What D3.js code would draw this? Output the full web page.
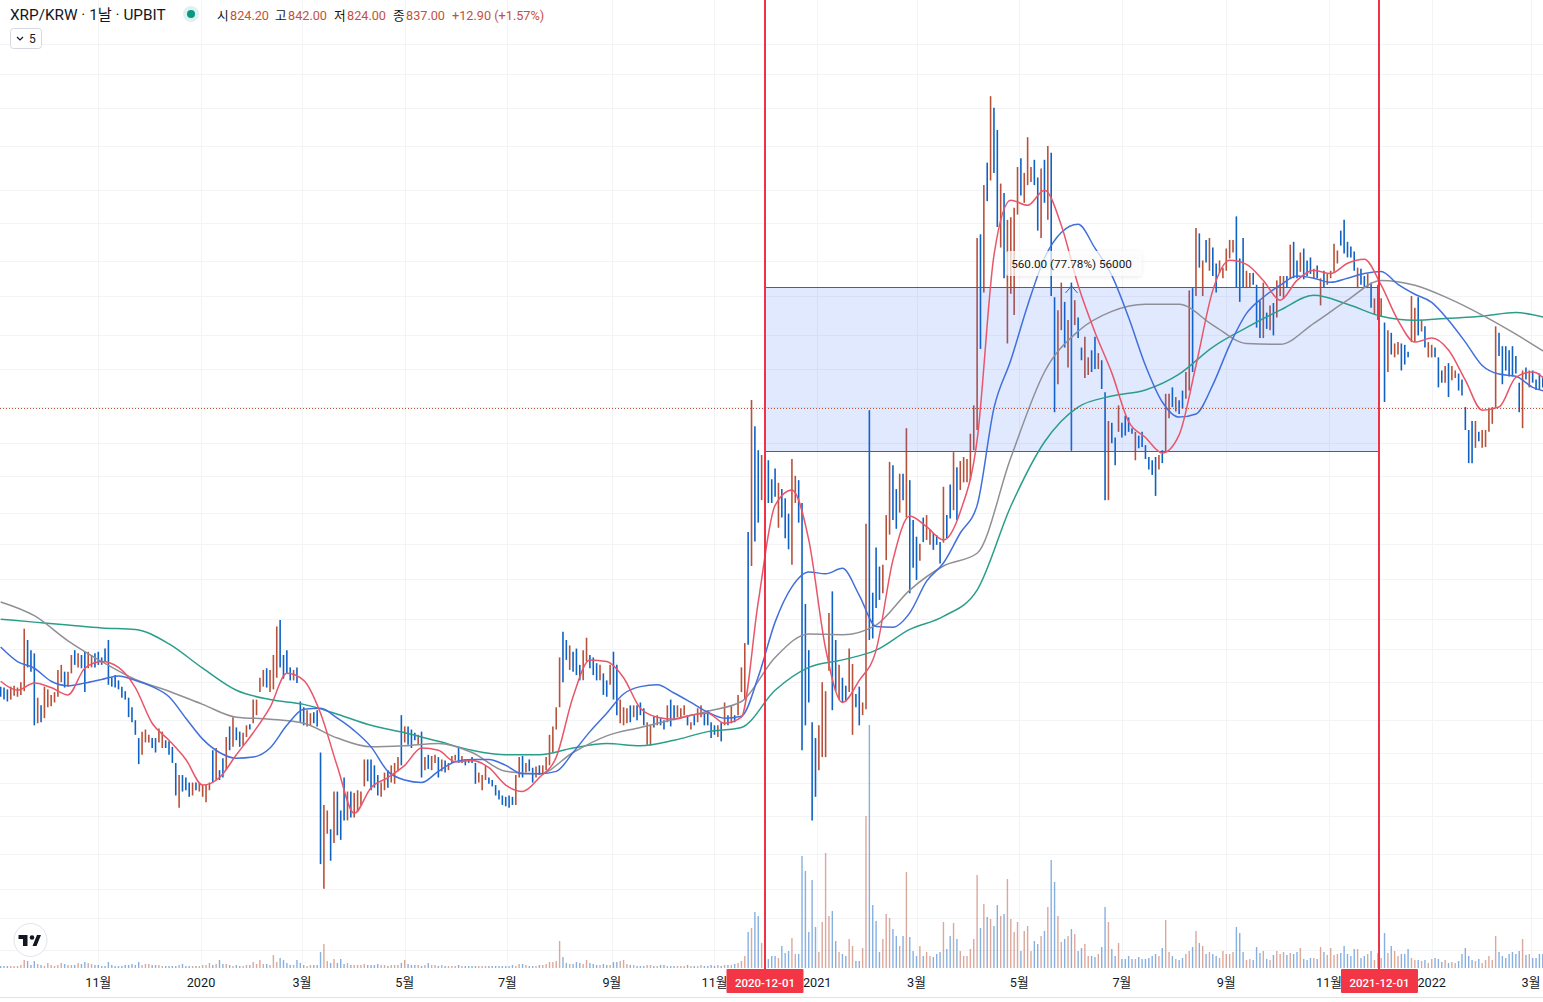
<!DOCTYPE html>
<html>
<head>
<meta charset="utf-8">
<title>XRP/KRW</title>
<script src="https://cdn.jsdelivr.net/npm/d3@7"></script>
<style>
  html, body { margin: 0; padding: 0; background: #fff; }
  svg { display: block; }
  text { font-family: Roboto, "Noto Sans CJK KR", sans-serif; }
</style>
</head>
<body>
<svg id="chart" width="1543" height="1002"></svg>
<script>
// one bar every second day from barStart, ten bars per row
const barStart = new Date(Date.UTC(2019, 8, 4));
const barDays = 2;

const highs = [
  315,314,312,315,316,314,320,386,371,358,
  354,303,295,315,312,306,309,334,340,332,
  332,352,358,354,352,356,356,352,354,356,
  349,360,371,325,328,322,315,310,303,293,
  280,263,269,271,266,263,263,272,269,261,
  260,255,241,231,231,229,225,225,225,225,
  223,223,225,252,254,235,245,264,274,283,
  273,269,268,275,276,301,301,325,334,336,
  334,352,389,398,352,358,337,334,337,299,
  293,290,287,288,290,250,208,204,191,218,
  218,204,229,218,218,217,219,218,244,244,
  244,239,231,225,233,235,239,241,246,285,
  274,274,271,268,266,269,246,248,247,248,
  246,244,243,241,247,248,255,247,244,244,
  246,241,233,231,239,229,227,223,219,215,
  214,215,214,231,246,247,241,244,237,238,
  239,239,246,266,274,293,349,382,371,364,
  356,360,340,358,374,352,349,342,340,330,
  322,340,356,340,301,293,292,295,295,295,
  298,292,278,275,284,285,282,280,295,301,
  295,295,292,295,285,278,285,292,295,288,
  290,278,275,275,278,298,285,295,285,306,
  337,367,542,861,785,722,710,743,697,652,
  677,644,630,610,578,700,660,650,600,421,
  358,278,263,275,320,310,408,440,371,340,
  325,316,360,341,307,315,298,558,831,438,
  513,480,483,575,693,685,630,665,665,780,
  650,565,533,520,570,575,546,540,536,523,
  635,575,640,717,680,695,705,700,765,845,
  1520,1540,1830,1980,2500,2400,2220,1840,1780,1620,
  1635,1690,1950,2010,1910,2165,1950,2000,1880,1940,
  2000,2100,2050,1235,1180,1300,1215,1140,1300,1222,
  1150,1035,1075,1000,1025,1075,1015,990,885,800,
  795,755,845,795,815,810,780,770,760,770,
  735,705,697,705,710,722,880,880,900,870,
  860,890,950,1265,1275,1575,1545,1405,1510,1520,
  1470,1390,1405,1370,1465,1510,1510,1640,1415,1520,
  1355,1345,1345,1290,1220,1300,1170,1200,1210,1310,
  1330,1330,1330,1485,1500,1405,1445,1465,1405,1420,
  1365,1380,1320,1355,1340,1355,1490,1455,1560,1620,
  1500,1475,1450,1370,1365,1330,1340,1300,1230,1290,
  1230,1130,1100,1090,1050,1055,1050,1045,1020,1240,
  1190,1235,1140,1115,1055,1045,1035,1000,955,970,
  980,970,955,945,925,840,775,800,800,770,
  775,775,838,840,1115,1090,1040,1040,1025,1040,
  1005,915,955,965,955,955,925,945,935
];

const lows = [
  304,301,299,301,305,304,306,310,337,332,
  275,277,278,282,293,294,298,304,320,314,
  315,330,340,337,336,309,336,337,337,340,
  340,344,317,315,314,312,303,301,283,278,
  266,240,248,259,259,254,250,259,254,254,
  248,241,215,206,218,219,214,215,219,218,
  214,210,219,225,227,227,229,235,252,255,
  261,255,256,264,271,277,285,309,315,314,
  309,312,325,337,324,330,322,322,319,278,
  275,274,275,277,274,169,155,188,171,182,
  187,184,197,197,199,199,203,208,222,226,
  219,221,215,214,219,221,225,224,234,239,
  259,257,254,261,257,229,235,236,235,241,
  229,234,233,235,241,243,241,241,239,241,
  241,224,225,219,227,224,222,215,212,208,
  207,206,208,208,229,229,233,234,225,229,
  231,231,235,239,250,271,293,320,346,334,
  332,328,322,322,344,336,328,322,322,306,
  304,317,301,285,277,275,277,278,283,280,
  285,275,257,256,273,275,275,271,278,274,
  280,283,282,285,275,271,275,278,283,275,
  275,263,266,264,260,275,275,277,278,285,
  309,301,365,481,524,560,606,650,600,600,
  613,550,570,530,510,483,600,560,252,275,
  298,197,214,235,246,246,333,290,310,301,
  298,299,309,266,293,275,285,291,371,373,
  415,427,437,491,537,565,548,580,606,570,
  437,478,458,490,523,527,518,509,518,485,
  522,530,568,585,565,628,645,645,650,722,
  775,1030,1255,1730,1860,1910,1580,1470,1320,1050,
  1250,1160,1650,1765,1720,1830,1850,1830,1560,1520,
  1720,1620,1240,825,910,1100,1035,965,722,1120,
  1070,990,930,940,950,960,960,895,606,606,
  740,685,770,755,760,770,765,697,727,730,
  700,675,662,615,675,690,718,808,840,827,
  820,835,865,890,950,1240,1370,1240,1395,1355,
  1330,1255,1345,1320,1355,1415,1445,1280,1215,1280,
  1275,1280,1290,1110,1070,1070,1105,1100,1080,1150,
  1240,1230,1280,1320,1320,1320,1350,1315,1330,1340,
  1320,1320,1200,1280,1290,1320,1350,1390,1480,1440,
  1420,1420,1355,1275,1290,1280,1275,1190,1160,1140,
  1155,855,950,1010,1000,1010,955,975,1000,1055,
  1055,1080,1095,1035,1000,1000,1000,900,915,915,
  870,923,930,890,875,775,690,690,728,745,
  728,730,770,792,838,1005,910,955,935,935,
  945,825,780,925,900,915,892,892,900
];

// r = price rose, b = price fell
const barDirs = (
  "bbbrrrrrbb" + "brbrrrrrrb" + "rrbrbbrrbb" + "bbbbbbbbbb" + "bbrrrbbrrb" +
  "bbbrbbbrbr" + "rrrbrbbrbr" + "bbrrbrrrrb" + "rrrbbbbrbb" + "brrbbbrrbr" +
  "bbbrbrrrrb" + "bbbrrbrrrb" + "rbbbrbrbrr" + "brbrrrbrbb" + "bbrrrbbbbb" +
  "bbbrrbrbbr" + "brrrrrrbbr" + "bbbrrbbbrb" + "brbbrrrbrb" + "bbrrbrbbrb" +
  "brrrbrbrrb" + "bbbrbrbrbr" + "rrbrbbrbbb" + "brbbbrrbbb" + "bbbrrrrbbr" +
  "bbrrbbrrbb" + "bbrrrbbrbr" + "bbbrbrrbbb" + "rbbrbrrrrr" + "rbrbrbbrbr" +
  "rrrbrrrbbr" + "brbbrrbrbr" + "bbrrbbrbbr" + "bbrbbbbrbb" + "bbbbrbrrbr" +
  "bbrrbrbrbr" + "bbrrrrrbbb" + "rrbbbrbrbr" + "rrbrbbrbbb" + "rbrbrrrrbb" +
  "bbbrbbrbrr" + "rbrbrrbbbr" + "rbrbrrbbbr" + "brrbbbbbrb" + "rrrrrbbbbb" +
  "bbrbrbbbb"
).split("");

const volumes = [
  10,10,10,10,10,10,15,40,35,15,
  35,20,15,10,25,15,10,15,25,20,
  15,15,15,25,20,30,25,20,15,15,
  10,10,30,15,10,10,10,15,15,20,
  15,30,15,20,20,15,15,15,10,10,
  10,10,10,15,20,10,10,10,10,10,
  15,15,25,15,20,40,20,20,15,10,
  15,10,10,15,15,30,20,40,20,20,
  15,65,30,50,40,25,15,15,40,25,
  15,10,15,15,15,80,120,35,25,45,
  25,45,20,25,15,15,15,15,20,15,
  15,15,20,15,15,10,15,15,15,25,
  40,20,15,15,15,10,15,25,15,15,
  10,15,10,10,10,10,15,10,10,10,
  10,10,10,10,10,10,10,10,10,10,
  10,10,15,10,20,20,15,10,10,10,
  15,15,20,30,30,35,135,55,25,20,
  20,30,25,20,40,25,20,15,15,20,
  15,15,30,30,35,40,20,15,15,10,
  10,10,15,15,10,10,15,15,10,10,
  10,10,10,10,15,10,10,10,15,10,
  10,15,10,15,10,15,15,15,20,25,
  35,60,180,200,280,260,125,95,45,60,
  60,50,110,75,85,150,70,70,560,485,
  180,440,205,80,230,575,260,285,135,80,
  70,60,145,110,35,35,100,760,1215,315,
  235,80,145,270,250,195,160,110,160,480,
  155,85,60,110,60,80,60,55,70,80,
  230,95,160,225,145,85,60,60,95,145,
  465,200,320,255,245,210,315,260,270,445,
  245,180,230,85,185,210,85,135,120,160,
  185,305,540,430,260,130,145,160,195,170,
  85,100,120,60,60,55,70,105,305,230,
  95,60,125,45,45,60,45,45,55,45,
  45,50,60,70,60,100,240,80,60,45,
  40,50,70,85,105,185,125,110,70,80,
  70,60,50,85,70,70,80,205,175,80,
  40,45,40,105,75,85,45,40,65,85,
  70,80,65,75,70,80,100,45,40,50,
  50,45,105,80,65,100,65,70,75,110,
  70,60,95,95,50,60,70,85,40,75,
  50,175,75,110,85,60,70,70,95,50,
  40,40,35,40,25,45,50,45,30,40,
  25,30,25,35,70,100,60,40,35,45,
  25,40,60,40,160,80,60,50,70,80,
  70,85,145,65,70,50,50,70,70
];

// moving averages, read every 10 days
const maRed = [
  321,311,319,314,306,336,344,337,314,277,261,244,223,229,248,268,293,330,322,287,
  238,202,221,229,239,254,252,242,243,237,223,218,229,246,304,346,344,325,292,283,
  281,285,287,277,283,424,595,628,527,360,298,322,358,491,573,552,527,582,748,1430,
  1736,1705,1798,1590,1288,1092,947,798,755,715,762,972,1265,1406,1386,1310,1222,1310,1357,1342,
  1391,1411,1288,1139,1055,1070,1026,923,831,840,932,950,908
];
const maBlue = [
  362,344,336,321,316,319,323,327,322,315,304,282,262,250,245,246,254,275,291,292,
  282,270,255,234,227,225,234,242,244,244,239,232,232,234,250,269,287,307,315,317,
  308,298,288,282,284,326,395,447,471,468,477,434,389,388,408,456,486,540,595,837,
  990,1200,1416,1550,1595,1467,1333,1150,972,855,811,820,908,1044,1167,1235,1288,1330,1320,1301,
  1320,1342,1352,1292,1248,1213,1139,1055,972,943,936,900,885
];
// slower averages, read every 20 days
const maGray = [
  424,404,370,344,323,310,296,283,281,277,263,255,256,258,250,234,232,250,265,273,
  281,289,299,349,379,378,391,442,481,503,703,950,1096,1175,1205,1205,1120,1050,1047,1127,
  1222,1310,1288,1230,1160,1085,1008
];
const maGreen = [
  399,395,391,387,385,366,336,311,301,296,286,275,268,260,252,248,248,254,258,256,
  261,269,273,311,337,346,358,385,403,442,593,743,840,873,892,943,1037,1110,1180,1243,
  1205,1155,1139,1147,1155,1170,1145
];

const gridPrices = [3000,2700,2400,2100,1800,1600,1400,1240,1080,960,840,740,660,580,520,460,400,360,320,280,250,225,200,175,155,140,125];
const tickDates = ["2019-11-01","2020-01-01","2020-03-01","2020-05-01","2020-07-01","2020-09-01","2020-11-01","2021-01-01","2021-03-01","2021-05-01","2021-07-01","2021-09-01","2021-11-01","2022-01-01","2022-03-01"];
const tickLabels = ["11월","2020","3월","5월","7월","9월","11월","2021","3월","5월","7월","9월","11월","2022","3월"];

const rangeStart = "2020-12-01", rangeEnd = "2021-12-01", arrowDate = "2021-06-01";
const rangeLow = 720, rangeHigh = 1280, lastClose = 837;

const ohlcHeader = [["시","824.20"],["고","842.00"],["저","824.00"],["종","837.00"]];
const ohlcX = [217,275,334,393];

const red = "#b8513a", blue = "#0f62c4", rangeBlue = "#2b60dc", markerRed = "#ee3348";

var svg = d3.select("#chart");
var parseDay = d3.utcParse("%Y-%m-%d");

var x = d3.scaleUtc().domain([parseDay("2020-01-01"), parseDay("2022-03-01")]).range([201, 1531]);
var y = d3.scaleLog().domain([rangeLow, rangeHigh]).range([451, 287]);
var vol = d3.scaleLinear().domain([0, 1215]).range([968, 725]);

var barX = function (i) { return x(d3.utcDay.offset(barStart, i * barDays)); };

// grid
svg.append("g").selectAll("line")
  .data(gridPrices)
  .enter().append("line")
  .attr("x1", 0).attr("x2", 1543)
  .attr("y1", function (d) { return Math.round(y(d)) + 0.5; })
  .attr("y2", function (d) { return Math.round(y(d)) + 0.5; })
  .attr("stroke", "#f3f4f6");

svg.append("g").selectAll("line")
  .data(tickDates)
  .enter().append("line")
  .attr("x1", function (d) { return Math.round(x(parseDay(d))) + 0.5; })
  .attr("x2", function (d) { return Math.round(x(parseDay(d))) + 0.5; })
  .attr("y1", 0).attr("y2", 968)
  .attr("stroke", "#f3f4f6");

// volume
svg.append("g").selectAll("line")
  .data(volumes)
  .enter().append("line")
  .attr("x1", function (d, i) { return barX(i); })
  .attr("x2", function (d, i) { return barX(i); })
  .attr("y1", 968)
  .attr("y2", function (d) { return vol(d); })
  .attr("stroke", function (d, i) { return barDirs[i] == "r" ? red : blue; })
  .attr("stroke-opacity", 0.5)
  .attr("stroke-width", 1.4);

// price bars
svg.append("g").selectAll("line")
  .data(highs)
  .enter().append("line")
  .attr("x1", function (d, i) { return barX(i); })
  .attr("x2", function (d, i) { return barX(i); })
  .attr("y1", function (d) { return y(d); })
  .attr("y2", function (d, i) { return y(lows[i]); })
  .attr("stroke", function (d, i) { return barDirs[i] == "r" ? red : blue; })
  .attr("stroke-width", 1.6);

// measured range
svg.append("rect")
  .attr("x", x(parseDay(rangeStart)))
  .attr("y", y(rangeHigh))
  .attr("width", x(parseDay(rangeEnd)) - x(parseDay(rangeStart)))
  .attr("height", y(rangeLow) - y(rangeHigh))
  .attr("fill", "#2962ff")
  .attr("fill-opacity", 0.14);

[rangeHigh, rangeLow].forEach(function (p) {
  svg.append("line")
    .attr("x1", x(parseDay(rangeStart))).attr("x2", x(parseDay(rangeEnd)))
    .attr("y1", Math.round(y(p)) + 0.5).attr("y2", Math.round(y(p)) + 0.5)
    .attr("stroke", rangeBlue);
});

var ax = Math.round(x(parseDay(arrowDate))) + 0.5;
svg.append("path")
  .attr("d", "M" + ax + "," + y(rangeLow) + "V" + y(rangeHigh) + "m-6,6l6,-7l6,7")
  .attr("fill", "none")
  .attr("stroke", rangeBlue);

// moving averages
var maLine = function (step) {
  return d3.line()
    .x(function (d, i) { return x(d3.utcDay.offset(barStart, i * step)); })
    .y(function (d) { return y(d); })
    .curve(d3.curveMonotoneX);
};

[[maGreen, 20, "#2b9e8a"], [maGray, 20, "#8f8f96"], [maBlue, 10, "#416fdc"], [maRed, 10, "#e9566a"]].forEach(function (m) {
  svg.append("path")
    .attr("d", maLine(m[1])(m[0]))
    .attr("fill", "none")
    .attr("stroke", m[2])
    .attr("stroke-width", 1.5);
});

// last price line
svg.append("line")
  .attr("x1", 0).attr("x2", 1543)
  .attr("y1", Math.round(y(lastClose)) + 0.5).attr("y2", Math.round(y(lastClose)) + 0.5)
  .attr("stroke", "#b8513a")
  .attr("stroke-dasharray", "1,2");

// range label
var defs = svg.append("defs");
var blur = defs.append("filter").attr("id", "soft").attr("x", "-10%").attr("y", "-30%").attr("width", "120%").attr("height", "170%");
blur.append("feDropShadow").attr("dx", 0).attr("dy", 1).attr("stdDeviation", 2).attr("flood-color", "#000").attr("flood-opacity", 0.12);

svg.append("rect")
  .attr("x", ax - 66).attr("y", 251)
  .attr("width", 136).attr("height", 25).attr("rx", 4)
  .attr("fill", "#fff").attr("fill-opacity", 0.72)
  .attr("filter", "url(#soft)");

svg.append("text")
  .attr("x", ax).attr("y", 267.5)
  .attr("text-anchor", "middle")
  .attr("font-size", 11.7)
  .attr("fill", "#131722")
  .text("560.00 (77.78%) 56000");

// red date markers
[rangeStart, rangeEnd].forEach(function (d) {
  var mx = Math.round(x(parseDay(d)));
  svg.append("line")
    .attr("x1", mx).attr("x2", mx)
    .attr("y1", 0).attr("y2", 970)
    .attr("stroke", markerRed).attr("stroke-width", 2);
});

// time axis
svg.append("line")
  .attr("x1", 0).attr("x2", 1543).attr("y1", 997.5).attr("y2", 997.5)
  .attr("stroke", "#e0e3eb");

svg.append("g").selectAll("text")
  .data(tickDates)
  .enter().append("text")
  .attr("x", function (d) { return x(parseDay(d)); })
  .attr("y", 987)
  .attr("text-anchor", "middle")
  .attr("font-size", 12.7)
  .attr("fill", "#131722")
  .text(function (d, i) { return tickLabels[i]; });

[rangeStart, rangeEnd].forEach(function (d) {
  var mx = x(parseDay(d));
  svg.append("rect")
    .attr("x", mx - 38.5).attr("y", 969)
    .attr("width", 77).attr("height", 24).attr("rx", 1)
    .attr("fill", "#f23645");
  svg.append("text")
    .attr("x", mx).attr("y", 987)
    .attr("text-anchor", "middle")
    .attr("font-size", 11.5).attr("font-weight", 500)
    .attr("fill", "#fff")
    .text(d);
});

// header
svg.append("text")
  .attr("x", 10).attr("y", 19.5)
  .attr("font-size", 15.3)
  .attr("fill", "#131722")
  .text("XRP/KRW · 1날 · UPBIT");

svg.append("circle").attr("cx", 191).attr("cy", 14).attr("r", 8).attr("fill", "#089981").attr("fill-opacity", 0.13);
svg.append("circle").attr("cx", 191).attr("cy", 14).attr("r", 4).attr("fill", "#089981");

ohlcHeader.forEach(function (o, i) {
  svg.append("text").attr("x", ohlcX[i]).attr("y", 20).attr("font-size", 12.7).attr("fill", "#131722").text(o[0]);
  svg.append("text").attr("x", ohlcX[i] + 13).attr("y", 20).attr("font-size", 12.7).attr("fill", "#c4513a").text(o[1]);
});
svg.append("text").attr("x", 452).attr("y", 20).attr("font-size", 12.7).attr("fill", "#c4513a").text("+12.90 (+1.57%)");

svg.append("rect")
  .attr("x", 10.5).attr("y", 28.5).attr("width", 31).attr("height", 20).attr("rx", 3)
  .attr("fill", "#fff").attr("stroke", "#d6d8df");
svg.append("path")
  .attr("d", "M17,37l3,3l3,-3")
  .attr("fill", "none").attr("stroke", "#131722").attr("stroke-width", 1.2);
svg.append("text").attr("x", 29).attr("y", 43).attr("font-size", 12).attr("fill", "#131722").text("5");

// TradingView badge
svg.append("circle")
  .attr("cx", 30.5).attr("cy", 940).attr("r", 16.5)
  .attr("fill", "#fff").attr("stroke", "#e0e3eb");
svg.append("path")
  .attr("d", "M20,935h9v11h-4.5v-7h-4.5zM34,946l4.5,-11h4l-4.5,11z")
  .attr("transform", "translate(-1.5,0)")
  .attr("fill", "#131722");
svg.append("circle").attr("cx", 32).attr("cy", 937.5).attr("r", 2.3).attr("fill", "#131722");
</script>
</body>
</html>
